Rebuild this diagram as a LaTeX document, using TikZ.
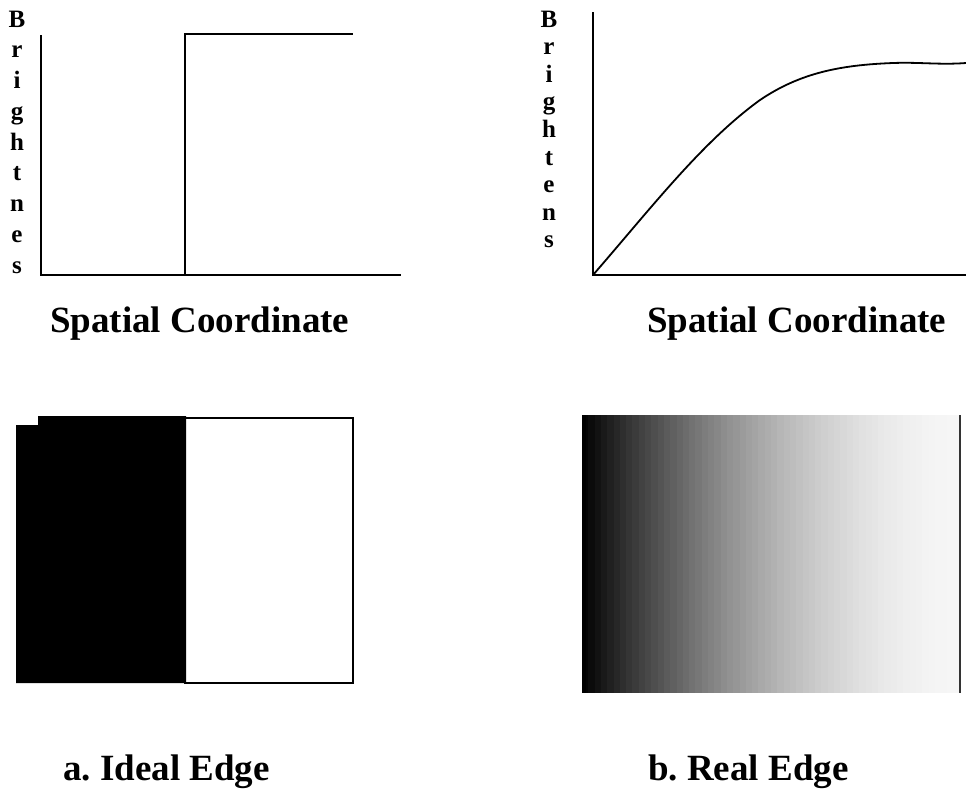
\documentclass[tikz,border=0pt]{standalone}
\usepackage{fontspec}
\setmainfont{Liberation Serif}
\frenchspacing
\begin{document}
\begin{tikzpicture}[x=1pt,y=-1pt,
  axis/.style={line width=2pt, line join=miter},
  curve/.style={line width=1.8pt},
  letter/.style={font=\fontsize{25}{27}\selectfont\bfseries, anchor=base, inner sep=0pt},
  caption/.style={font=\fontsize{37}{40}\selectfont\bfseries, anchor=base west, inner sep=0pt}]
\useasboundingbox (0,0) rectangle (966,796);

% ---- top-left: ideal edge profile
\draw[axis] (41,35) -- (41,275) -- (401,275);
\draw[axis] (185,275) -- (185,34) -- (353,34);
\foreach \l [count=\i from 0] in {B,r,i,g,h,t,n,e,s}
  \node[letter] (bl\i) at (17,{27+30.75*\i}) {\l};
\node[caption] (sc1) at (50,332) {Spatial Coordinate};

% ---- top-right: real edge profile
\draw[axis] (593,12) -- (593,275) -- (966,275);
\draw[curve] (593,275) .. controls (652,207) and (702,142) .. (760,100)
  .. controls (800,73) and (840,65) .. (893,63)
  .. controls (920,62) and (940,65) .. (966,63);
\foreach \l [count=\i from 0] in {B,r,i,g,h,t,e,n,s}
  \node[letter] (br\i) at (549,{27+27.6*\i}) {\l};
\node[caption] (sc2) at (647,332) {Spatial Coordinate};

% ---- bottom-left: ideal edge image
\fill[black] (16,425) -- (38,425) -- (38,416) -- (186,416) -- (186,683) -- (16,683) -- cycle;
\draw[line width=1.5pt] (185,418) rectangle (353,683);

% ---- bottom-right: real edge image (banded gradient)
\foreach \k in {0,...,59} {
  \pgfmathsetmacro{\t}{(\k+0.5)/60}
  \pgfmathsetmacro{\g}{100*0.965*(1-(1-\t)^1.8)}
  \pgfmathsetmacro{\xa}{582+6.3*\k}
  \pgfmathsetmacro{\xb}{582+6.3*(\k+1)+0.5}
  \fill[white!\g!black] (\xa,415) rectangle (\xb,693);
}
\fill[black] (582,415) rectangle (586,693);
\draw[line width=1.5pt, black!80] (960,415) -- (960,693);

\node[caption] (capa) at (63,780) {a. Ideal Edge};
\node[caption] (capb) at (648,780) {b. Real Edge};
\end{tikzpicture}
\end{document}
